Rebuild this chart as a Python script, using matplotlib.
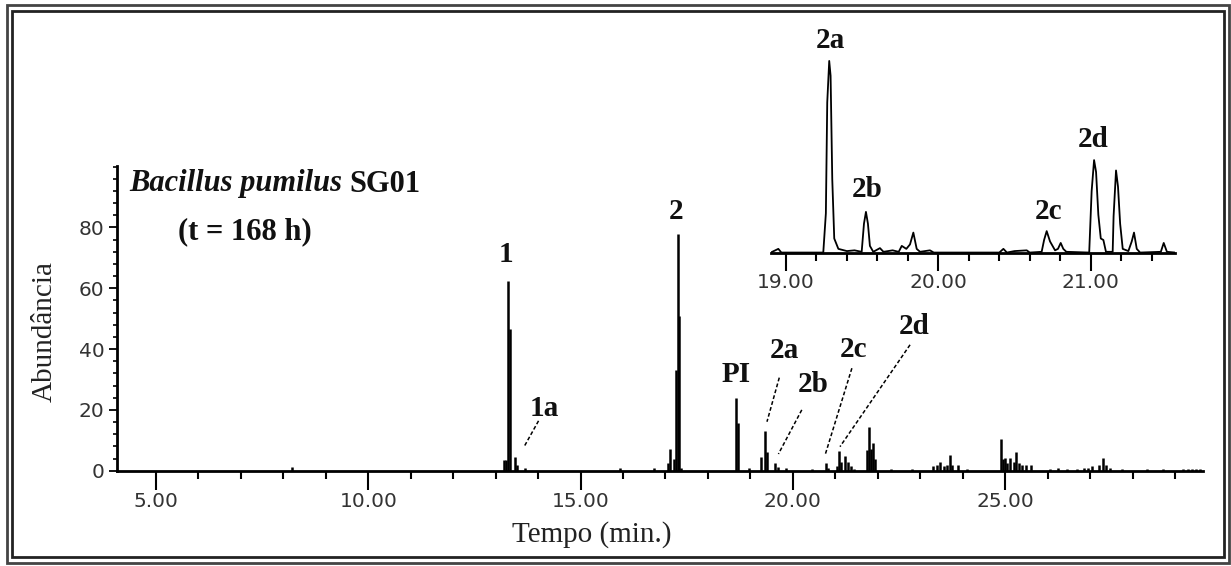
import matplotlib
matplotlib.use("Agg")
import matplotlib.pyplot as plt
from matplotlib.patches import Rectangle
from matplotlib.ticker import MultipleLocator, FixedLocator, FixedFormatter

W, H = 1231, 566
SERIF = "Liberation Serif"

# main chromatogram: retention time (min) and abundance of each peak stick
main_t = [8.20, 13.20, 13.25, 13.30, 13.33, 13.45, 13.50, 13.70, 15.93, 16.73,
          17.05, 17.10, 17.20, 17.25, 17.29, 17.32, 17.37,
          18.67, 18.70, 18.97,
          19.26, 19.34, 19.38, 19.58, 19.64, 19.85,
          20.45, 20.77, 20.82,
          21.05, 21.09, 21.13, 21.23, 21.29, 21.36, 21.45,
          21.74, 21.80, 21.84, 21.88, 21.94, 22.30, 22.80,
          23.30, 23.40, 23.47, 23.55, 23.62, 23.69, 23.75, 23.89, 24.10,
          24.91, 24.95, 25.00, 25.05, 25.12, 25.20, 25.26, 25.32, 25.40, 25.50, 25.62,
          26.05, 26.25, 26.45, 26.70, 26.85, 26.95, 27.05, 27.20, 27.31, 27.37, 27.47,
          27.75, 28.35, 28.72, 29.20, 29.30, 29.40, 29.50, 29.58]
main_h = [1.2, 3.5, 3.5, 62.5, 46.5, 4.5, 2.0, 0.8, 0.8, 0.8,
          2.5, 7.0, 4.0, 33.0, 78.0, 51.0, 1.0,
          23.8, 15.6, 0.8,
          4.5, 13.0, 6.0, 2.5, 1.2, 0.8,
          0.5, 2.4, 1.0,
          1.5, 6.5, 3.0, 4.8, 3.0, 1.5, 0.6,
          6.7, 14.3, 7.0, 9.0, 4.0, 0.5, 0.5,
          1.5, 2.0, 3.0, 1.5, 2.0, 5.0, 1.8, 2.0, 0.5,
          10.3, 4.0, 4.2, 2.5, 4.2, 3.0, 6.3, 2.5, 2.0, 2.0, 1.8,
          0.5, 0.8, 0.5, 0.5, 1.0, 1.0, 1.5, 2.0, 4.2, 2.0, 1.0,
          0.5, 0.4, 0.5, 0.6, 0.6, 0.6, 0.6, 0.6]

# zoomed trace, 18.9 - 21.55 min
inset_t = [18.90, 18.93, 18.95, 18.97, 19.10, 19.245, 19.262, 19.271, 19.284, 19.293,
           19.304, 19.317, 19.344, 19.40, 19.45, 19.497, 19.512, 19.525, 19.538, 19.551,
           19.573, 19.617, 19.64, 19.70, 19.74, 19.76, 19.79, 19.814, 19.836, 19.858,
           19.88, 19.945, 19.97, 20.40, 20.427, 20.45, 20.50, 20.58, 20.60, 20.678,
           20.694, 20.711, 20.733, 20.766, 20.785, 20.803, 20.82, 20.84, 20.99, 21.006,
           21.022, 21.035, 21.050, 21.066, 21.083, 21.10, 21.144, 21.150, 21.166, 21.179,
           21.193, 21.21, 21.247, 21.269, 21.284, 21.302, 21.324, 21.46, 21.479, 21.50,
           21.553]
inset_h = [0.05, 0.2, 0.3, 0.05, 0.05, 0.05, 2.7, 10.2, 13.0, 12.0,
           5.0, 1.0, 0.3, 0.15, 0.2, 0.1, 2.0, 2.8, 2.0, 0.5,
           0.1, 0.35, 0.1, 0.2, 0.1, 0.5, 0.3, 0.6, 1.4, 0.3,
           0.1, 0.2, 0.05, 0.05, 0.3, 0.05, 0.15, 0.2, 0.05, 0.1,
           0.9, 1.5, 0.8, 0.2, 0.3, 0.7, 0.3, 0.1, 0.05, 4.2,
           6.3, 5.5, 2.6, 1.0, 0.9, 0.1, 0.1, 2.5, 5.6, 4.5,
           2.0, 0.3, 0.15, 0.8, 1.4, 0.3, 0.05, 0.1, 0.7, 0.1,
           0.05]

x_ticks = [5, 10, 15, 20, 25]
x_ticklabels = ["5.00", "10.00", "15.00", "20.00", "25.00"]
y_ticks = [0, 20, 40, 60, 80]
inset_ticks = [19, 20, 21]
inset_ticklabels = ["19.00", "20.00", "21.00"]

# peak labels (text, x, y) and dashed leaders (x0, y0, x1, y1), main axes units
peak_labels = [("1", 13.245, 71.0), ("1a", 14.14, 20.5), ("2", 17.25, 85.2),
               ("PI", 18.66, 31.5), ("2a", 19.79, 39.5), ("2b", 20.48, 28.2),
               ("2c", 21.42, 39.7), ("2d", 22.85, 47.4)]
leaders = [(14.01, 16.4, 13.67, 7.9), (19.68, 30.6, 19.39, 16.1),
           (20.21, 20.0, 19.66, 5.5), (21.39, 33.7, 20.76, 5.2),
           (22.76, 41.4, 21.11, 7.9)]
inset_labels = [("2a", 19.289, 14.4), ("2b", 19.53, 4.3),
                ("2c", 20.72, 2.8), ("2d", 21.014, 7.7)]


def fx(x):
    return x / W


def fy(y):
    return 1 - y / H


fig = plt.figure(figsize=(W / 100, H / 100), dpi=100)
fig.patch.set_facecolor("white")

# double frame around the whole picture
for (x0, y0, x1, y1), c in [((7, 5, 1229, 563), "#444444"), ((12, 11, 1224, 557), "#222222")]:
    fig.patches.append(Rectangle((fx(x0), fy(y1)), fx(x1 - x0), (y1 - y0) / H,
                                 transform=fig.transFigure, fill=False,
                                 edgecolor=c, linewidth=2))

ax = fig.add_axes([fx(117), fy(470.7), fx(1203 - 117), (470.7 - 166) / H])
ax.vlines(main_t, 0, main_h, color="black", linewidth=1.8)
ax.set_xlim(4.081, 29.66)
ax.set_ylim(0, 100.2)
for s in ["top", "right"]:
    ax.spines[s].set_visible(False)
for s in ["left", "bottom"]:
    ax.spines[s].set_linewidth(2)
ax.xaxis.set_major_locator(FixedLocator(x_ticks))
ax.xaxis.set_major_formatter(FixedFormatter(x_ticklabels))
ax.xaxis.set_minor_locator(MultipleLocator(1))
ax.yaxis.set_major_locator(FixedLocator(y_ticks))
ax.yaxis.set_minor_locator(MultipleLocator(4))
ax.tick_params(axis="x", which="major", direction="out", length=14, width=1.5,
               labelsize=14.5, pad=1, labelcolor="#333333")
ax.tick_params(axis="x", which="minor", direction="out", length=6, width=1.5)
ax.tick_params(axis="y", which="major", direction="out", length=6, width=1.3,
               labelsize=14.5, pad=3, labelcolor="#333333")
ax.tick_params(axis="y", which="minor", direction="out", length=3, width=1.2)

for txt, x, y in peak_labels:
    ax.text(x, y, txt, ha="center", va="center", fontsize=21, fontweight="bold",
            family=SERIF, color="#111111")
for x0, y0, x1, y1 in leaders:
    ax.plot([x0, x1], [y0, y1], color="black", linewidth=1.1, linestyle=(0, (2.5, 1.5)))

fig.text(fx(591.5), fy(535), "Tempo (min.)", ha="center", va="center",
         fontsize=21, family=SERIF, color="#222222")
fig.text(fx(45), fy(331.5), "Abundância", ha="center", va="center", rotation=90,
         fontsize=21, family=SERIF, color="#222222")
t1 = fig.text(fx(129), fy(184), "Bacillus pumilus", ha="left", va="center", fontsize=22,
              fontweight="bold", style="italic", family=SERIF, color="#111111")
# put "SG01" right after the italic species name
r = fig.canvas.get_renderer()
bb = t1.get_window_extent(renderer=r)
fig.text(bb.x1 / W + fx(7), fy(184), "SG01", ha="left", va="center", fontsize=22,
         fontweight="bold", family=SERIF, color="#111111")
fig.text(fx(178), fy(232), "(t = 168 h)", ha="left", va="center", fontsize=22,
         fontweight="bold", family=SERIF, color="#111111")

# inset with the 2a-2d region
ins = fig.add_axes([fx(770.7), fy(253.3), fx(1175 - 770.7), (253.3 - 50) / H])
ins.patch.set_alpha(0)
ins.plot(inset_t, inset_h, color="black", linewidth=1.3)
ins.set_xlim(18.90, 21.553)
ins.set_ylim(0, 13.74)
for s in ["top", "right", "left"]:
    ins.spines[s].set_visible(False)
ins.spines["bottom"].set_linewidth(2)
ins.set_yticks([])
ins.xaxis.set_major_locator(FixedLocator(inset_ticks))
ins.xaxis.set_major_formatter(FixedFormatter(inset_ticklabels))
ins.xaxis.set_minor_locator(MultipleLocator(0.2))
ins.tick_params(axis="x", which="major", direction="out", length=13, width=1.5,
                labelsize=14.5, pad=1, labelcolor="#333333")
ins.tick_params(axis="x", which="minor", direction="out", length=6, width=1.5)
for txt, x, y in inset_labels:
    ins.text(x, y, txt, ha="center", va="center", fontsize=21, fontweight="bold",
             family=SERIF, color="#111111")

fig.savefig("out.png", dpi=100)
